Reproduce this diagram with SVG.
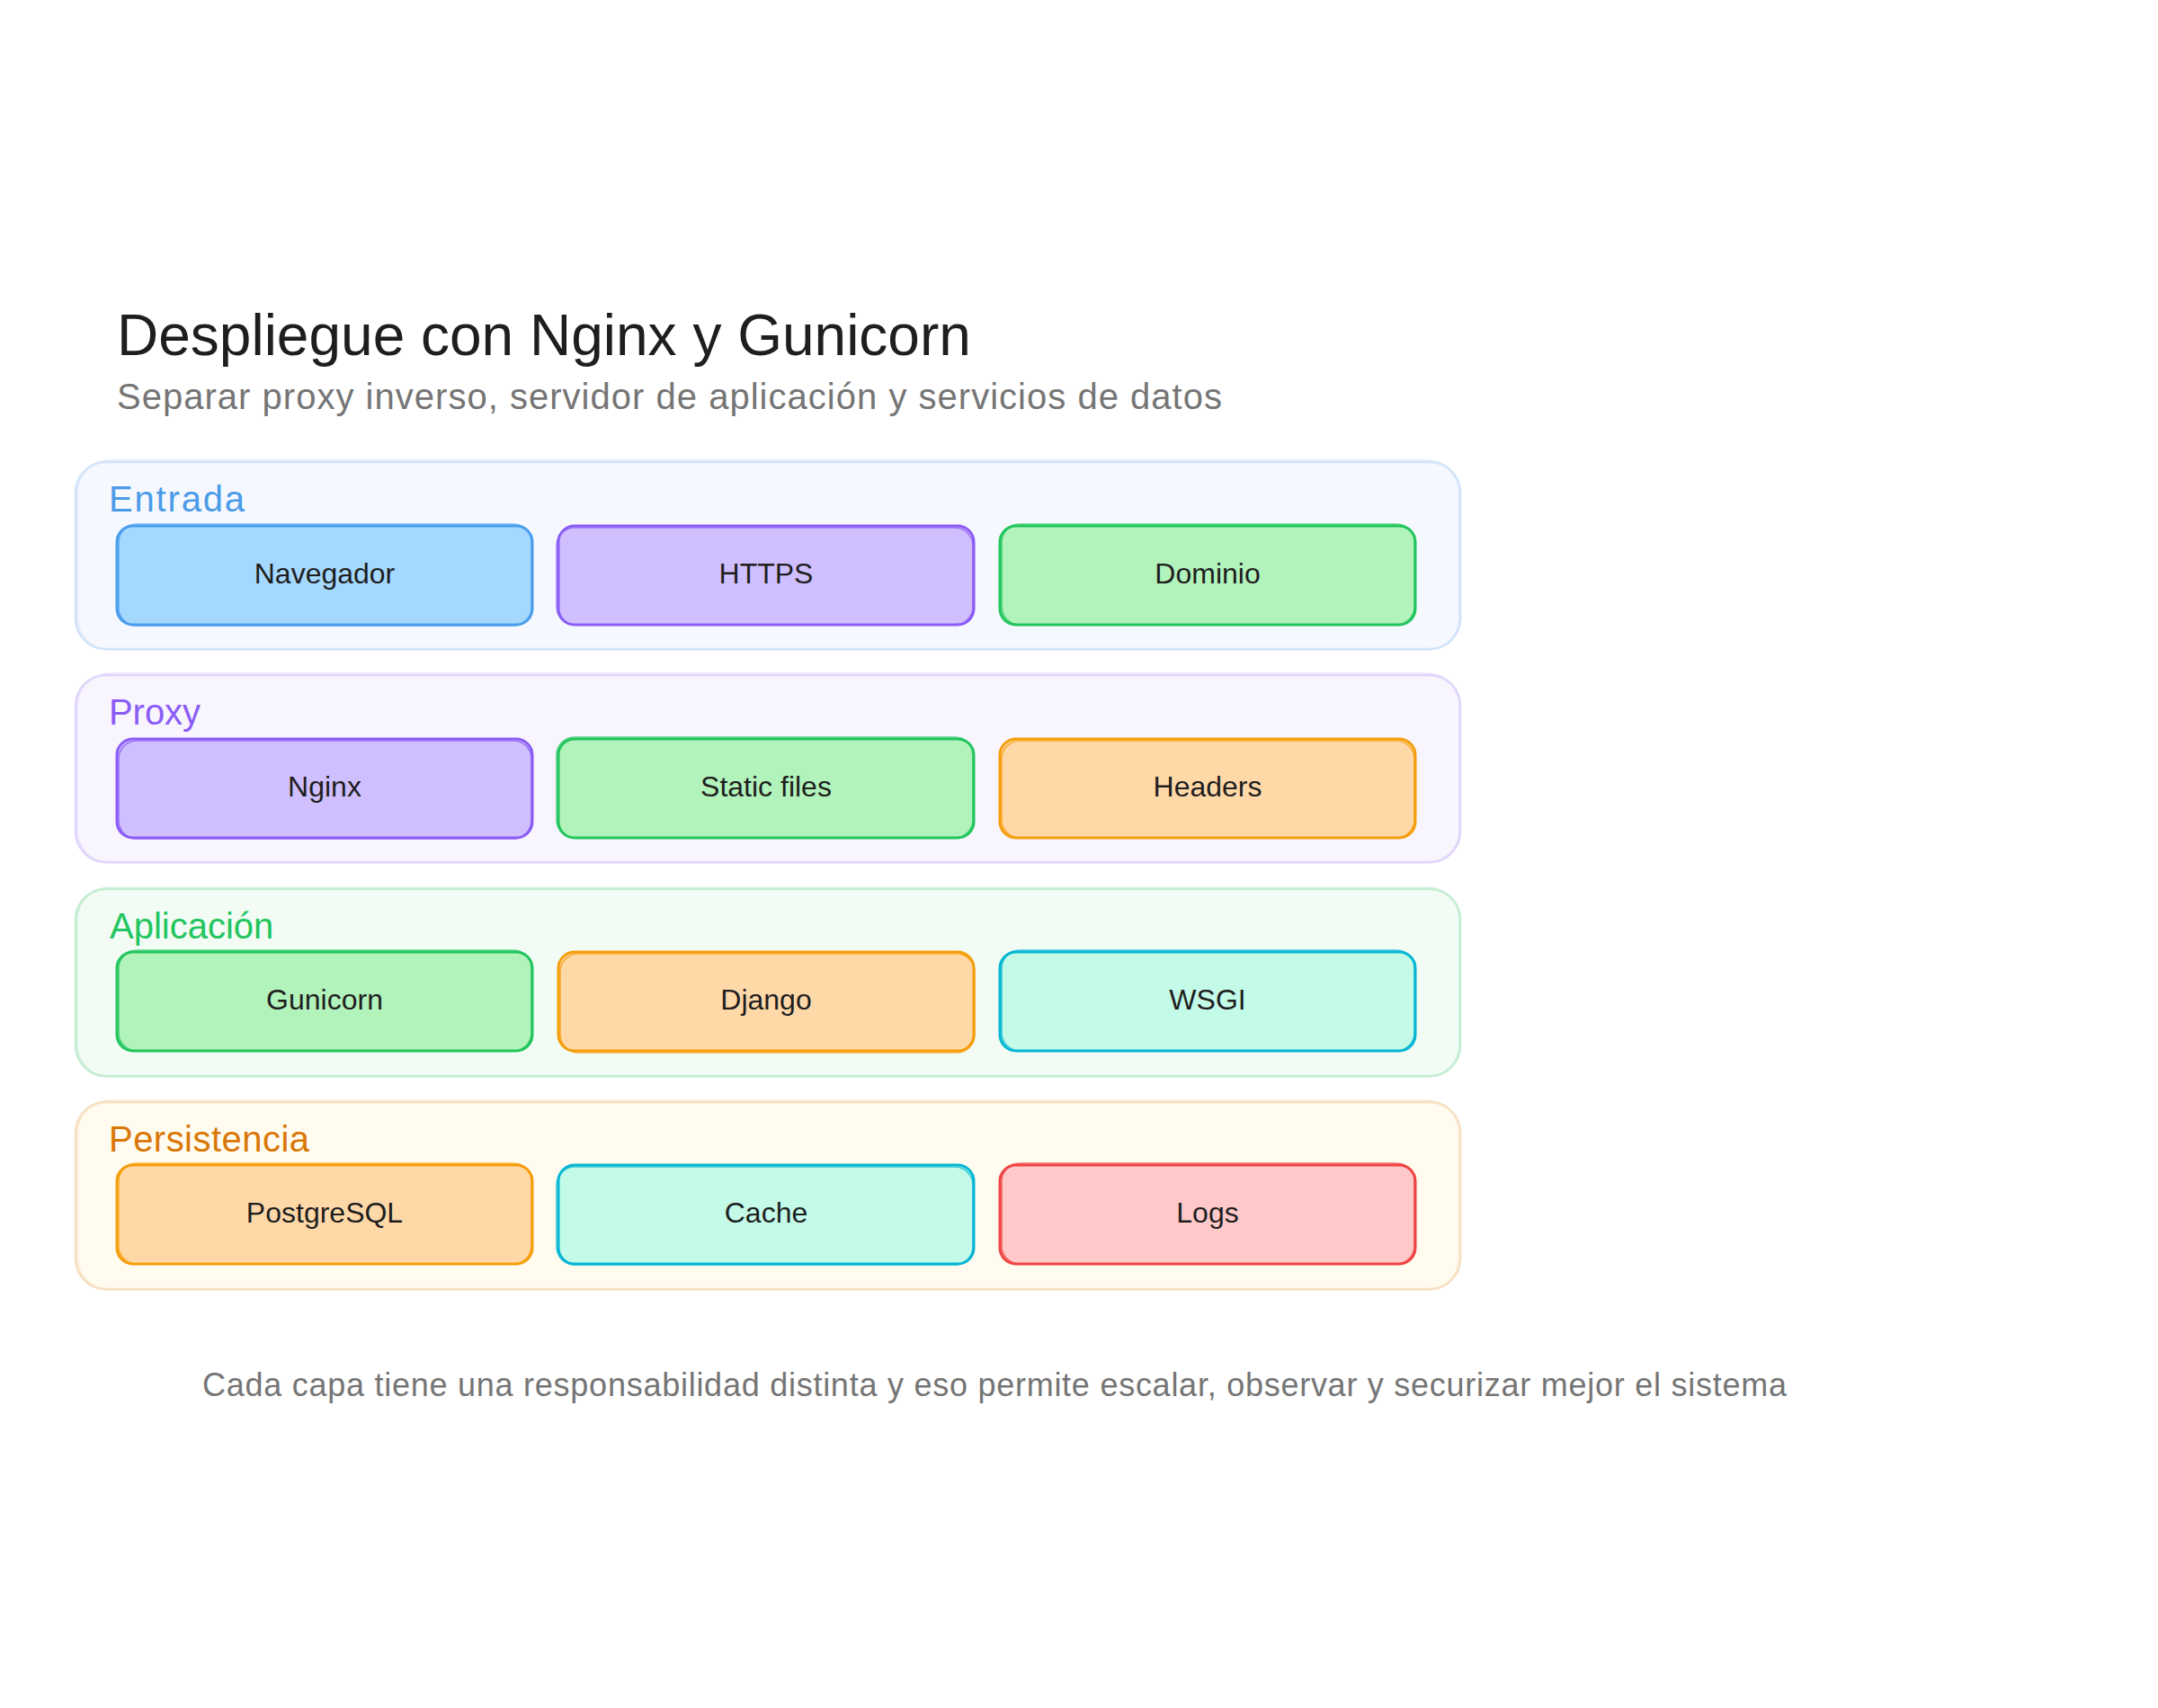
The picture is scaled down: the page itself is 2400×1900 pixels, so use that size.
<svg xmlns="http://www.w3.org/2000/svg" width="2400" height="1900" viewBox="0 0 2400 1900">
<style>
text{font-family:"Liberation Sans",Arial,sans-serif}
.title{font-size:64px;fill:#1e1e1e}
.sub{font-size:40px;fill:#757575}
.foot{font-size:36px;fill:#757575}
.lbl{font-size:40px}
.nt{font-size:32px;fill:#1e1e1e;text-anchor:middle;dominant-baseline:central}
.grp{stroke-width:2.5}
.grp2{fill:none;stroke-width:1.5;stroke-opacity:.7}
.nd{stroke-width:3}
.nd2{fill:none;stroke-width:1.6;stroke-opacity:.75}
.blue .grp{fill:#f5f8fe;stroke:#d2e3f9}.blue .grp2{stroke:#d2e3f9}.blue .lbl{fill:#4a9be8}
.purp .grp{fill:#f8f5fe;stroke:#e0d5fb}.purp .grp2{stroke:#e0d5fb}.purp .lbl{fill:#8b5cf6}
.grn .grp{fill:#f2fcf5;stroke:#c3edd2}.grn .grp2{stroke:#c3edd2}.grn .lbl{fill:#22c55e}
.org .grp{fill:#fffbef;stroke:#f6dfc2}.org .grp2{stroke:#f6dfc2}.org .lbl{fill:#d97706}
.cB .nd{fill:#a5d8ff;stroke:#4a9eed}.cB .nd2{stroke:#4a9eed}
.cP .nd{fill:#d0bfff;stroke:#8b5cf6}.cP .nd2{stroke:#8b5cf6}
.cG .nd{fill:#b2f2bb;stroke:#22c55e}.cG .nd2{stroke:#22c55e}
.cO .nd{fill:#ffd8a8;stroke:#f59e0b}.cO .nd2{stroke:#f59e0b}
.cC .nd{fill:#c3fae8;stroke:#06b6d4}.cC .nd2{stroke:#06b6d4}
.cR .nd{fill:#ffc9c9;stroke:#ef4444}.cR .nd2{stroke:#ef4444}
</style>
<rect width="2400" height="1900" fill="#ffffff"/>
<g id="header">
<text class="title" x="130" y="395">Despliegue con Nginx y Gunicorn</text>
<text class="sub" x="130" y="455" textLength="1229">Separar proxy inverso, servidor de aplicación y servicios de datos</text>
</g>
<g id="layer-entrada" class="blue">
<rect class="grp" x="84" y="514" width="1540" height="208" rx="34"/>
<rect class="grp2" x="86" y="512" width="1537" height="211" rx="36"/>
<text class="lbl" x="121" y="569" textLength="151">Entrada</text>
</g>
<g id="layer-proxy" class="purp">
<rect class="grp" x="84" y="751" width="1540" height="208" rx="34"/>
<rect class="grp2" x="86" y="749" width="1537" height="211" rx="36"/>
<text class="lbl" x="121" y="806" textLength="102">Proxy</text>
</g>
<g id="layer-aplicacion" class="grn">
<rect class="grp" x="84" y="989" width="1540" height="208" rx="34"/>
<rect class="grp2" x="86" y="987" width="1537" height="211" rx="36"/>
<text class="lbl" x="122" y="1044">Aplicación</text>
</g>
<g id="layer-persistencia" class="org">
<rect class="grp" x="84" y="1226" width="1540" height="208" rx="34"/>
<rect class="grp2" x="86" y="1224" width="1537" height="211" rx="36"/>
<text class="lbl" x="121" y="1281" textLength="223">Persistencia</text>
</g>
<g id="node-navegador" class="cB"><rect class="nd" x="130" y="585" width="462" height="110" rx="18"/><rect class="nd2" x="132" y="583" width="459" height="113" rx="20"/><text class="nt" x="361" y="638">Navegador</text></g>
<g id="node-https" class="cP"><rect class="nd" x="621" y="585" width="462" height="110" rx="18"/><rect class="nd2" x="619" y="587" width="463" height="108" rx="20"/><text class="nt" x="852" y="638">HTTPS</text></g>
<g id="node-dominio" class="cG"><rect class="nd" x="1112" y="585" width="462" height="110" rx="18"/><rect class="nd2" x="1114" y="583" width="459" height="112" rx="20"/><text class="nt" x="1343" y="638">Dominio</text></g>
<g id="node-nginx" class="cP"><rect class="nd" x="130" y="822" width="462" height="110" rx="18"/><rect class="nd2" x="132" y="824" width="459" height="109" rx="20"/><text class="nt" x="361" y="875">Nginx</text></g>
<g id="node-static" class="cG"><rect class="nd" x="621" y="822" width="462" height="110" rx="18"/><rect class="nd2" x="619" y="820" width="463" height="112" rx="20"/><text class="nt" x="852" y="875">Static files</text></g>
<g id="node-headers" class="cO"><rect class="nd" x="1112" y="822" width="462" height="110" rx="18"/><rect class="nd2" x="1114" y="824" width="459" height="108" rx="20"/><text class="nt" x="1343" y="875">Headers</text></g>
<g id="node-gunicorn" class="cG"><rect class="nd" x="130" y="1059" width="462" height="110" rx="18"/><rect class="nd2" x="132" y="1057" width="459" height="112" rx="20"/><text class="nt" x="361" y="1112">Gunicorn</text></g>
<g id="node-django" class="cO"><rect class="nd" x="621" y="1059" width="462" height="110" rx="18"/><rect class="nd2" x="623" y="1061" width="461" height="110" rx="20"/><text class="nt" x="852" y="1112">Django</text></g>
<g id="node-wsgi" class="cC"><rect class="nd" x="1112" y="1059" width="462" height="110" rx="18"/><rect class="nd2" x="1114" y="1057" width="459" height="112" rx="20"/><text class="nt" x="1343" y="1112">WSGI</text></g>
<g id="node-postgresql" class="cO"><rect class="nd" x="130" y="1296" width="462" height="110" rx="18"/><rect class="nd2" x="132" y="1294" width="459" height="112" rx="20"/><text class="nt" x="361" y="1349">PostgreSQL</text></g>
<g id="node-cache" class="cC"><rect class="nd" x="621" y="1296" width="462" height="110" rx="18"/><rect class="nd2" x="619" y="1298" width="463" height="109" rx="20"/><text class="nt" x="852" y="1349">Cache</text></g>
<g id="node-logs" class="cR"><rect class="nd" x="1112" y="1296" width="462" height="110" rx="18"/><rect class="nd2" x="1114" y="1294" width="459" height="112" rx="20"/><text class="nt" x="1343" y="1349">Logs</text></g>
<g id="connectors"></g>
<g id="footer">
<text class="foot" x="225" y="1553" textLength="1762">Cada capa tiene una responsabilidad distinta y eso permite escalar, observar y securizar mejor el sistema</text>
</g>
</svg>
